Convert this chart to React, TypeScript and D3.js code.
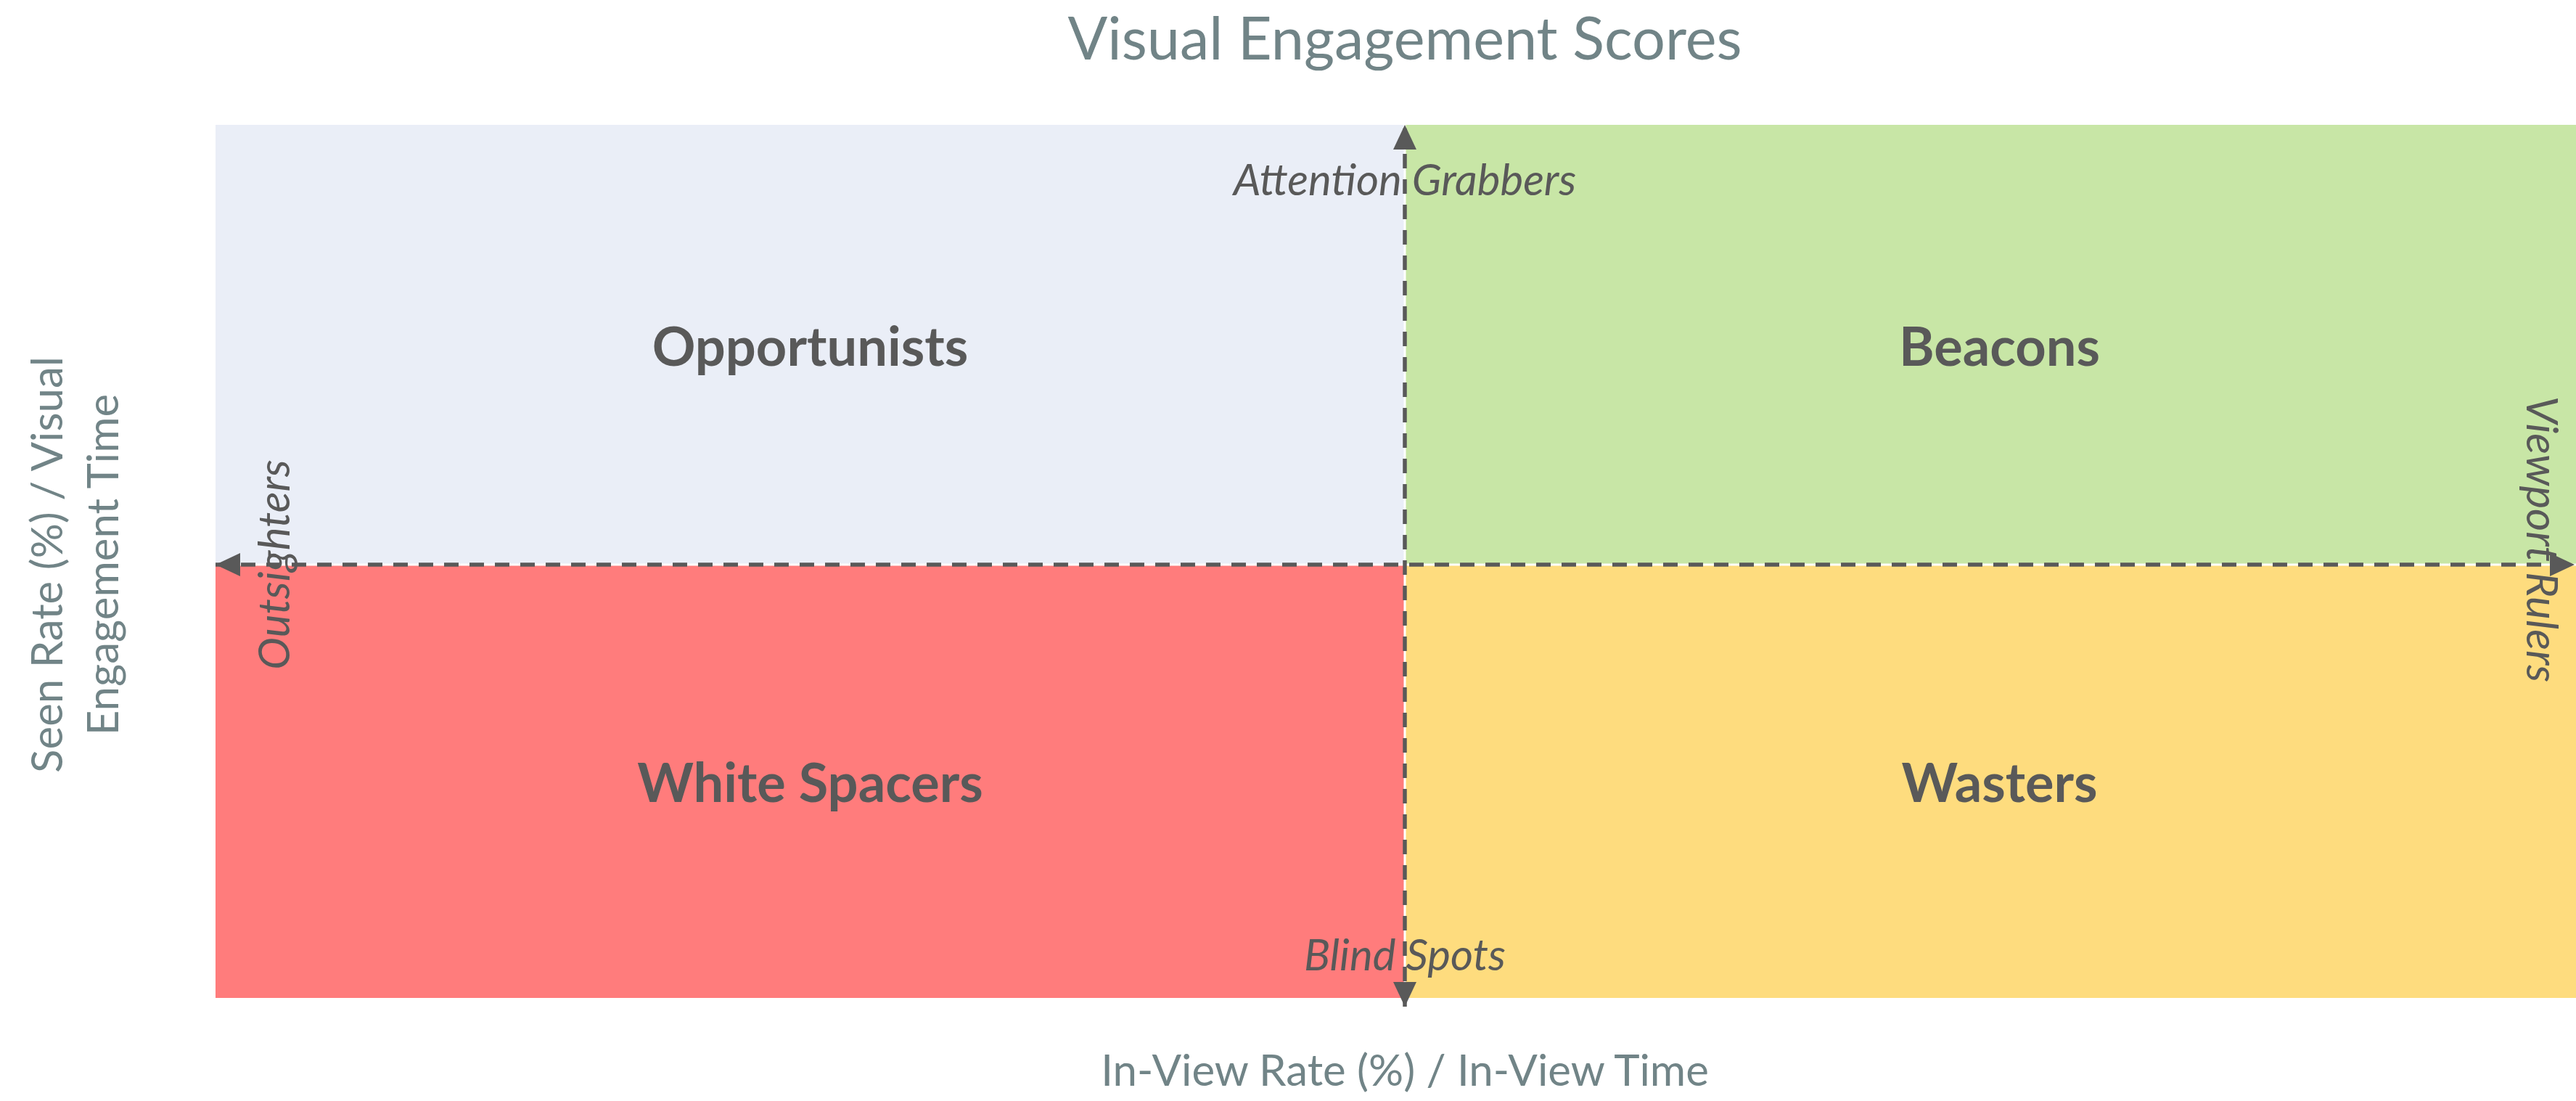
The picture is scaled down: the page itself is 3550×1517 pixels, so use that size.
import React, { useEffect, useRef } from 'react';
import * as d3 from 'd3';

// quadrant data
const quadrantNames = ['Opportunists', 'Beacons', 'White Spacers', 'Wasters'];
const quadrantCols = [0, 1, 0, 1];
const quadrantRows = [1, 1, 0, 0];
const quadrantColors = ['#EAEEF7', '#C8E6A6', '#FF7C7C', '#FEDC7E'];

// labels at the ends of the dashed axes
const edgeLabels = ['Attention Grabbers', 'Blind Spots', 'Outsighters', 'Viewport Rulers'];

const chartTitle = 'Visual Engagement Scores';
const xTitle = 'In-View Rate (%) / In-View Time';
const yTitleLines = ['Seen Rate (%) / Visual', 'Engagement Time'];

const App = () => {
  const svgRef = useRef(null);

  useEffect(() => {
    const width = 3550;
    const height = 1517;

    const svg = d3.select(svgRef.current);
    svg.selectAll('*').remove();
    svg.attr('width', width).attr('height', height);

    const x = d3.scaleLinear().domain([0, 1, 2]).range([297, 1936, 3575]);
    const y = d3.scaleLinear().domain([0, 1, 2]).range([1375, 778, 172]);

    const textDark = '#595959';
    const textSoft = '#718487';
    const gap = 1.5;

    // quadrants
    svg.append('g')
      .selectAll('rect')
      .data(quadrantNames)
      .enter()
      .append('rect')
      .attr('x', (d, i) => x(quadrantCols[i]) + (quadrantCols[i] === 1 ? gap : 0))
      .attr('y', (d, i) => y(quadrantRows[i] + 1) + (quadrantRows[i] === 0 ? gap : 0))
      .attr('width', (d, i) => x(quadrantCols[i] + 1) - x(quadrantCols[i]) - gap)
      .attr('height', (d, i) => y(quadrantRows[i]) - y(quadrantRows[i] + 1) - gap)
      .attr('fill', (d, i) => quadrantColors[i]);

    svg.append('g')
      .selectAll('text')
      .data(quadrantNames)
      .enter()
      .append('text')
      .attr('x', (d, i) => x(quadrantCols[i] + 0.5))
      .attr('y', (d, i) => y(quadrantRows[i] + 0.5))
      .attr('text-anchor', 'middle')
      .attr('dominant-baseline', 'central')
      .style('font-family', 'Lato, sans-serif')
      .style('font-weight', 700)
      .style('font-size', '74px')
      .style('fill', textDark)
      .text(d => d);

    // arrowheads
    const defs = svg.append('defs');
    defs.append('marker')
      .attr('id', 'arrow')
      .attr('viewBox', '0 0 34 32')
      .attr('refX', 34)
      .attr('refY', 16)
      .attr('markerWidth', 34)
      .attr('markerHeight', 32)
      .attr('markerUnits', 'userSpaceOnUse')
      .attr('orient', 'auto-start-reverse')
      .append('path')
      .attr('d', 'M0,0 L34,16 L0,32 Z')
      .attr('fill', textDark);

    const axes = svg.append('g')
      .attr('stroke', textDark)
      .attr('stroke-width', 5.5)
      .attr('stroke-dasharray', '20,15')
      .attr('fill', 'none');

    axes.append('line')
      .attr('x1', x(1)).attr('x2', x(1))
      .attr('y1', y(0) + 12).attr('y2', y(2))
      .attr('marker-start', 'url(#arrow)')
      .attr('marker-end', 'url(#arrow)');

    axes.append('line')
      .attr('x1', x(0)).attr('x2', width - 2)
      .attr('y1', y(1)).attr('y2', y(1))
      .attr('marker-start', 'url(#arrow)')
      .attr('marker-end', 'url(#arrow)');

    // edge labels
    const italic = (sel) => sel
      .style('font-family', 'Lato, sans-serif')
      .style('font-style', 'italic')
      .style('font-size', '60px')
      .style('fill', textDark)
      .attr('text-anchor', 'middle')
      .attr('dominant-baseline', 'central');

    svg.append('text')
      .attr('x', x(1)).attr('y', 246)
      .call(italic)
      .text(edgeLabels[0]);

    svg.append('text')
      .attr('x', x(1)).attr('y', 1314)
      .call(italic)
      .text(edgeLabels[1]);

    svg.append('text')
      .attr('transform', `translate(376,${y(1)}) rotate(-90)`)
      .call(italic)
      .text(edgeLabels[2]);

    svg.append('text')
      .attr('transform', `translate(3505,${y(1) - 35}) rotate(90)`)
      .call(italic)
      .text(edgeLabels[3]);

    // titles
    svg.append('text')
      .attr('x', x(1)).attr('y', 82)
      .attr('text-anchor', 'middle')
      .style('font-family', 'Lato, sans-serif')
      .style('font-size', '81px')
      .style('fill', textSoft)
      .text(chartTitle);

    svg.append('text')
      .attr('x', x(1)).attr('y', 1496)
      .attr('text-anchor', 'middle')
      .style('font-family', 'Lato, sans-serif')
      .style('font-size', '60px')
      .style('fill', textSoft)
      .text(xTitle);

    svg.append('g')
      .selectAll('text')
      .data(yTitleLines)
      .enter()
      .append('text')
      .attr('transform', (d, i) => `translate(${86 + i * 77},${y(1)}) rotate(-90)`)
      .attr('text-anchor', 'middle')
      .style('font-family', 'Lato, sans-serif')
      .style('font-size', '60px')
      .style('fill', textSoft)
      .text(d => d);
  }, []);

  return (
    <div>
      <svg ref={svgRef} style={{ position: 'absolute', left: 0, top: 0 }}></svg>
    </div>
  );
};

export default App;
